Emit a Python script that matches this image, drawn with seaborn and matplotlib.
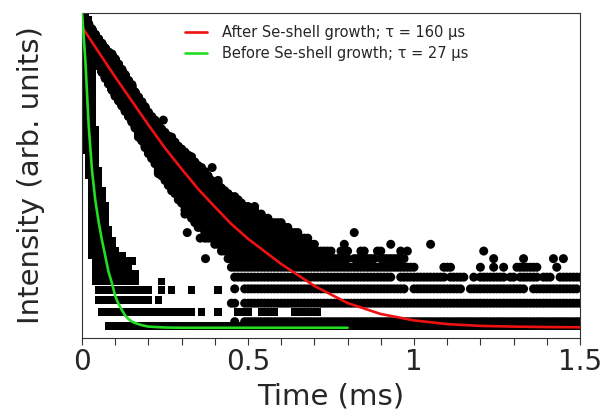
import numpy as np
import pandas as pd
import matplotlib
matplotlib.use("Agg")
import matplotlib.pyplot as plt
from matplotlib.ticker import NullLocator, MultipleLocator, FixedLocator, FixedFormatter
import seaborn as sns

# ---------------- data ----------------
bin_ms = 0.01  # width of one time channel (ms)

# After Se-shell growth (circles): dense part of the decay, count range per channel
after_band_t = [0.00, 0.01, 0.02, 0.03, 0.04, 0.05, 0.06, 0.07, 0.08, 0.09,
                0.10, 0.11, 0.12, 0.13, 0.14, 0.15, 0.16, 0.17, 0.18, 0.19,
                0.20, 0.21, 0.22, 0.23, 0.24, 0.25, 0.26, 0.27, 0.28, 0.29,
                0.30, 0.31, 0.32, 0.33, 0.34, 0.35, 0.36, 0.37, 0.38, 0.39,
                0.40, 0.41, 0.42, 0.43, 0.44, 0.45, 0.46, 0.47, 0.48, 0.49,
                0.50, 0.51, 0.52, 0.53, 0.54, 0.55, 0.56, 0.57, 0.58, 0.59,
                0.60, 0.61, 0.62, 0.63, 0.64, 0.65, 0.66, 0.67, 0.68, 0.69,
                0.70]
after_band_lo = [276, 240, 212, 192, 175, 160, 145, 132, 121, 110,
                 100, 93, 86, 79, 73, 67, 61, 53, 50, 45,
                 41, 38, 35, 30, 29, 27, 25, 23, 22, 20,
                 19, 16, 16, 15, 14, 13, 13, 11, 11, 11,
                 10, 10, 9, 9, 8, 8, 8, 8, 8, 8,
                 8, 8, 8, 8, 8, 8, 8, 8, 8, 8,
                 8, 8, 8, 8, 8, 8, 8, 8, 8, 8,
                 8]
after_band_hi = [343, 325, 308, 284, 262, 244, 228, 212, 199, 193,
                 179, 165, 152, 140, 128, 120, 107, 99, 92, 85,
                 78, 73, 69, 64, 60, 57, 54, 53, 49, 46,
                 44, 42, 40, 39, 36, 34, 33, 31, 29, 27,
                 26, 27, 24, 23, 22, 21, 21, 20, 19, 18,
                 18, 17, 18, 16, 16, 15, 15, 14, 14, 14,
                 14, 13, 13, 12, 12, 12, 11, 11, 11, 10,
                 10]
# low-count levels: count -> occupied time runs (ms)
after_rows = {
    3: [(0.46, 0.46), (0.49, 1.50)],
    4: [(0.45, 0.46), (0.49, 1.50)],
    5: [(0.46, 0.46), (0.49, 0.97), (1.00, 1.14), (1.17, 1.33), (1.36, 1.49)],
    6: [(0.46, 0.93), (0.96, 1.09), (1.11, 1.15), (1.18, 1.18), (1.20, 1.27),
        (1.29, 1.30), (1.32, 1.37), (1.39, 1.41), (1.44, 1.50)],
    7: [(0.45, 1.00), (1.09, 1.11), (1.20, 1.20), (1.24, 1.24), (1.27, 1.27),
        (1.31, 1.37), (1.43, 1.43)],
    8: [(0.70, 0.80), (0.82, 0.88), (0.90, 0.97), (1.24, 1.24), (1.33, 1.33),
        (1.42, 1.42), (1.45, 1.45)],
    9: [(0.71, 0.75), (0.78, 0.80), (0.84, 0.85), (0.89, 0.90), (0.96, 0.96),
        (0.98, 0.98), (1.21, 1.21)],
    10: [(0.79, 0.79), (0.93, 0.93), (1.05, 1.05)],
    12: [(0.82, 0.82)],
}
after_out_t = [0.245, 0.317, 0.356, 0.372, 0.392]
after_out_v = [69, 12, 11, 8, 33]

# Before Se-shell growth (squares): counts, normalised by before_scale
before_scale = 0.7
before_band_t = [0.00, 0.01, 0.02, 0.03, 0.04, 0.05, 0.06, 0.07, 0.08, 0.09,
                 0.10, 0.11, 0.12, 0.13, 0.14]
before_band_lo = [146, 62, 42, 12, 8, 8, 8, 8, 8, 8, 8, 8, 8, 8, 8]
before_band_hi = [498, 498, 468, 251, 85, 45, 33, 26, 18, 15, 13, 12, 12, 11, 10]
before_rows = {
    4: [(0.08, 1.50)],
    5: [(0.06, 0.33), (0.36, 0.36), (0.41, 0.41), (0.47, 0.50), (0.54, 0.58),
        (0.64, 0.71)],
    6: [(0.05, 0.20), (0.23, 0.23)],
    7: [(0.05, 0.20), (0.24, 0.24), (0.27, 0.27), (0.33, 0.33), (0.41, 0.41)],
    8: [(0.15, 0.16), (0.24, 0.24)],
    9: [(0.16, 0.16)],
    11: [(0.12, 0.12), (0.15, 0.15)],
}

# fitted curves
fit_after_t = [0.00, 0.05, 0.10, 0.15, 0.20, 0.25, 0.30, 0.35, 0.40, 0.45, 0.50,
               0.60, 0.70, 0.80, 0.90, 1.00, 1.10, 1.20, 1.30, 1.40, 1.50]
fit_after_v = [294, 199, 135, 93, 64, 44.7, 32.3, 23.6, 17.9, 13.7, 10.9,
               7.36, 5.23, 4.01, 3.38, 3.06, 2.89, 2.81, 2.78, 2.76, 2.75]
fit_before_t = [0.00, 0.01, 0.02, 0.03, 0.04, 0.05, 0.06, 0.07, 0.08, 0.09, 0.10,
                0.11, 0.12, 0.13, 0.14, 0.15, 0.16, 0.18, 0.20, 0.25, 0.30, 0.80]
fit_before_v = [371, 176, 64, 31.8, 19.9, 14.2, 10.7, 8.34, 6.50, 5.48, 4.48,
                3.95, 3.60, 3.30, 3.13, 3.01, 2.94, 2.84, 2.78, 2.74, 2.73, 2.73]

label_after = "After Se-shell growth; \u03c4 = 160 \u03bcs"
label_before = "Before Se-shell growth; \u03c4 = 27 \u03bcs"
xtick_vals = [0, 0.5, 1, 1.5]
xtick_labels = ["0", "0.5", "1", "1.5"]
x_label = "Time (ms)"
y_label = "Intensity (arb. units)"


def expand(band_t, band_lo, band_hi, rows, out_t=(), out_v=()):
    ts, vs = [], []
    for t, lo, hi in zip(band_t, band_lo, band_hi):
        for c in range(lo, hi + 1):
            ts.append(t)
            vs.append(c)
    for level, runs in rows.items():
        for a, b in runs:
            for i in range(int(round(a / bin_ms)), int(round(b / bin_ms)) + 1):
                ts.append(i * bin_ms)
                vs.append(level)
    ts += list(out_t)
    vs += list(out_v)
    return pd.DataFrame({"t": ts, "v": vs})


df_after = expand(after_band_t, after_band_lo, after_band_hi, after_rows,
                  after_out_t, after_out_v)
df_before = expand(before_band_t, before_band_lo, before_band_hi, before_rows)
df_before["v"] = df_before["v"] * before_scale

sns.set_style("white")
plt.rcParams["font.family"] = ["DejaVu Sans"]

RED = "#ee1111"
GREEN = "#22dd22"

fig = plt.figure(figsize=(6.07, 4.20), dpi=100)
ax = fig.add_axes([82 / 607, 82 / 420, 498 / 607, 325.5 / 420])

sns.scatterplot(data=df_before, x="t", y="v", marker="s", s=29, color="black",
                linewidth=0, edgecolor="none", ax=ax, legend=False, zorder=2)
sns.scatterplot(data=df_after, x="t", y="v", marker="o", s=42, color="black",
                linewidth=0, edgecolor="none", ax=ax, legend=False, zorder=2)
sns.lineplot(x=fit_after_t, y=fit_after_v, color=RED, lw=1.9, ax=ax,
             estimator=None, sort=False, label=label_after, zorder=3)
sns.lineplot(x=fit_before_t, y=fit_before_v, color=GREEN, lw=1.9, ax=ax,
             estimator=None, sort=False, label=label_before, zorder=3)

ax.set_yscale("log")
ax.set_xlim(0, 1.5)
ax.set_ylim(2.328, 368)
ax.yaxis.set_major_locator(NullLocator())
ax.yaxis.set_minor_locator(NullLocator())
ax.xaxis.set_major_locator(FixedLocator(xtick_vals))
ax.xaxis.set_major_formatter(FixedFormatter(xtick_labels))
ax.xaxis.set_minor_locator(MultipleLocator(0.1))
ax.tick_params(axis="x", which="both", direction="out", length=5, width=0.8,
               color="#333333", bottom=True, top=False, labelsize=20, pad=2)
ax.tick_params(axis="y", which="both", left=False, right=False, labelleft=False)

for sp in ax.spines.values():
    sp.set_color("#333333")
    sp.set_linewidth(0.8)

ax.set_xlabel(x_label, fontsize=21, labelpad=5)
ax.set_ylabel(y_label, fontsize=21)
ax.yaxis.set_label_coords(-0.074, 0.5)

ax.legend(loc="upper left", bbox_to_anchor=(0.207, 0.962), frameon=False,
          fontsize=10.5, handlelength=1.5, handletextpad=1.0, labelspacing=0.45,
          borderpad=0, borderaxespad=0)

fig.savefig("out.png", dpi=100)
